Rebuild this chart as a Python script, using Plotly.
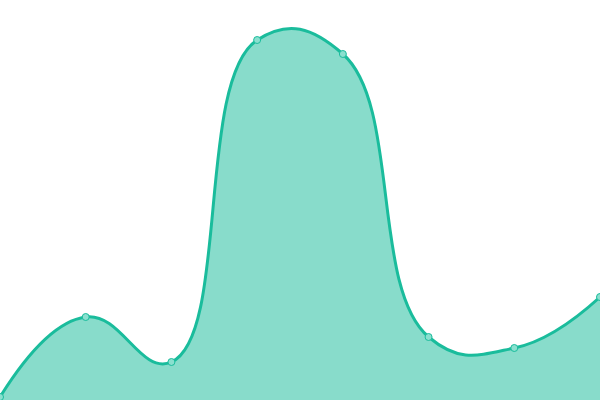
import plotly.graph_objects as go

x_vals = [0, 1, 2, 3, 4, 5, 6, 7]
y_vals = [3, 83, 38, 360, 346, 63, 52, 103]

fig = go.Figure()
fig.add_trace(go.Scatter(
    x=x_vals, y=y_vals,
    mode="lines+markers",
    line=dict(color="#1abc9c", width=3, shape="spline", smoothing=1.3),
    fill="tozeroy",
    fillcolor="rgba(26,188,156,0.52)",
    marker=dict(size=7, color="#8ae0cf", line=dict(color="#1abc9c", width=1)),
    hoverinfo="x+y",
))
fig.update_layout(
    width=600, height=400,
    margin=dict(l=0, r=0, t=0, b=0),
    paper_bgcolor="white", plot_bgcolor="white",
    showlegend=False,
    xaxis=dict(range=[0, 7], visible=False, fixedrange=True),
    yaxis=dict(range=[0, 400], visible=False, fixedrange=True),
)
fig.write_html(
    "out.html",
    config={"displayModeBar": False},
    post_script="document.body.style.margin='0';document.body.style.overflow='hidden';",
)
